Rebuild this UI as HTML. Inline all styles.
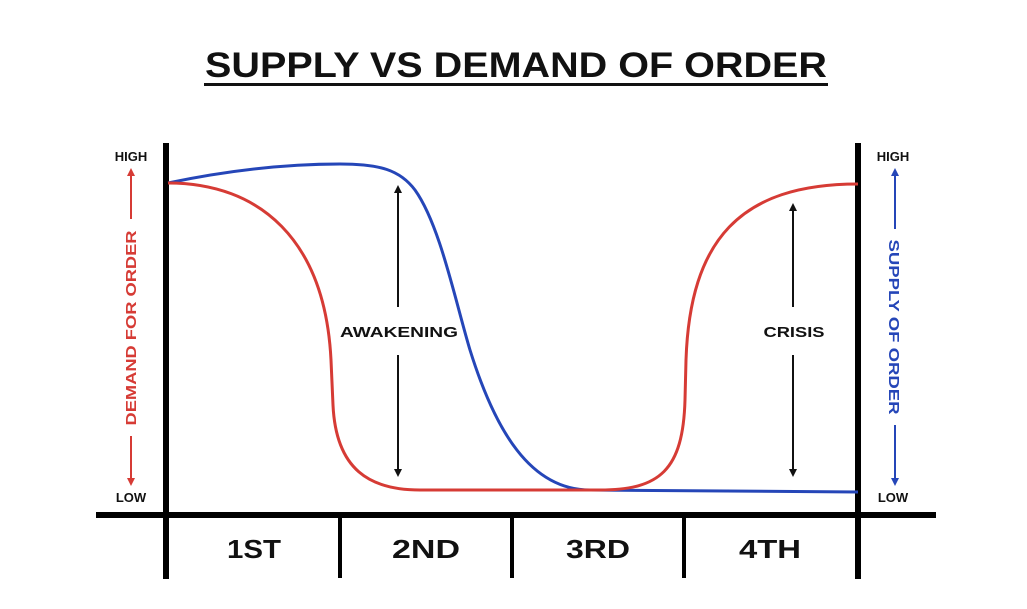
<!DOCTYPE html>
<html><head><meta charset="utf-8"><style>
html,body{margin:0;padding:0;background:#fff;}
svg{display:block;font-family:"Liberation Sans",sans-serif;font-weight:bold;}
</style></head><body>
<svg width="1027" height="609" viewBox="0 0 1027 609" xmlns="http://www.w3.org/2000/svg">
<defs>
<marker id="ak" markerWidth="8" markerHeight="8" refX="4" refY="4" orient="auto-start-reverse" markerUnits="userSpaceOnUse"><path d="M0,0 L8,4 L0,8 z" fill="#111"/></marker>
<marker id="ar" markerWidth="8" markerHeight="8" refX="4" refY="4" orient="auto-start-reverse" markerUnits="userSpaceOnUse"><path d="M0,0 L8,4 L0,8 z" fill="#d63b35"/></marker>
<marker id="ab" markerWidth="8" markerHeight="8" refX="4" refY="4" orient="auto-start-reverse" markerUnits="userSpaceOnUse"><path d="M0,0 L8,4 L0,8 z" fill="#2546b8"/></marker>
</defs>
<rect width="1027" height="609" fill="#fff"/>
<text x="516" y="77" font-size="35" text-anchor="middle" fill="#111" textLength="622" lengthAdjust="spacingAndGlyphs">SUPPLY VS DEMAND OF ORDER</text>
<rect x="204" y="83" width="624" height="3" fill="#111"/>
<rect x="163" y="143" width="6" height="436" fill="#000"/>
<rect x="855" y="143" width="6" height="436" fill="#000"/>
<rect x="96" y="512" width="840" height="6" fill="#000"/>
<rect x="338" y="515" width="4" height="63" fill="#000"/>
<rect x="510" y="515" width="4" height="63" fill="#000"/>
<rect x="682" y="515" width="4" height="63" fill="#000"/>
<g font-size="26" fill="#111" text-anchor="middle">
<text x="254" y="558" textLength="54" lengthAdjust="spacingAndGlyphs">1ST</text>
<text x="426" y="558" textLength="68" lengthAdjust="spacingAndGlyphs">2ND</text>
<text x="598" y="558" textLength="64" lengthAdjust="spacingAndGlyphs">3RD</text>
<text x="770" y="558" textLength="62" lengthAdjust="spacingAndGlyphs">4TH</text>
</g>
<g font-size="13" fill="#111" text-anchor="middle">
<text x="131" y="161">HIGH</text><text x="131" y="502">LOW</text>
<text x="893" y="161">HIGH</text><text x="893" y="502">LOW</text>
</g>
<line x1="131" y1="219" x2="131" y2="172" stroke="#d63b35" stroke-width="2" marker-end="url(#ar)"/>
<line x1="131" y1="436" x2="131" y2="482" stroke="#d63b35" stroke-width="2" marker-end="url(#ar)"/>
<text transform="translate(136,328) rotate(-90)" font-size="15" fill="#d63b35" text-anchor="middle" textLength="195" lengthAdjust="spacingAndGlyphs">DEMAND FOR ORDER</text>
<line x1="895" y1="229" x2="895" y2="172" stroke="#2546b8" stroke-width="2" marker-end="url(#ab)"/>
<line x1="895" y1="425" x2="895" y2="482" stroke="#2546b8" stroke-width="2" marker-end="url(#ab)"/>
<text transform="translate(889,327) rotate(90)" font-size="15" fill="#2546b8" text-anchor="middle" textLength="175" lengthAdjust="spacingAndGlyphs">SUPPLY OF ORDER</text>
<path d="M168,183 C230,170 290,164 340,164 C380,164 400,170 415,190 C440,225 455,300 470,350 C495,430 530,490 590,490 L858,492" fill="none" stroke="#2546b8" stroke-width="3"/>
<path d="M168,183 C260,183 325,240 331,360 L333,405 C336,470 370,490 420,490 L600,490 C660,490 683,470 685,400 L686,360 C690,240 740,184 858,184" fill="none" stroke="#d63b35" stroke-width="3"/>
<line x1="398" y1="307" x2="398" y2="189" stroke="#111" stroke-width="2" marker-end="url(#ak)"/>
<line x1="398" y1="355" x2="398" y2="473" stroke="#111" stroke-width="2" marker-end="url(#ak)"/>
<text x="399" y="337" font-size="15" fill="#111" text-anchor="middle" textLength="118" lengthAdjust="spacingAndGlyphs">AWAKENING</text>
<line x1="793" y1="307" x2="793" y2="207" stroke="#111" stroke-width="2" marker-end="url(#ak)"/>
<line x1="793" y1="355" x2="793" y2="473" stroke="#111" stroke-width="2" marker-end="url(#ak)"/>
<text x="794" y="337" font-size="15" fill="#111" text-anchor="middle" textLength="61" lengthAdjust="spacingAndGlyphs">CRISIS</text>
</svg>
</body></html>
